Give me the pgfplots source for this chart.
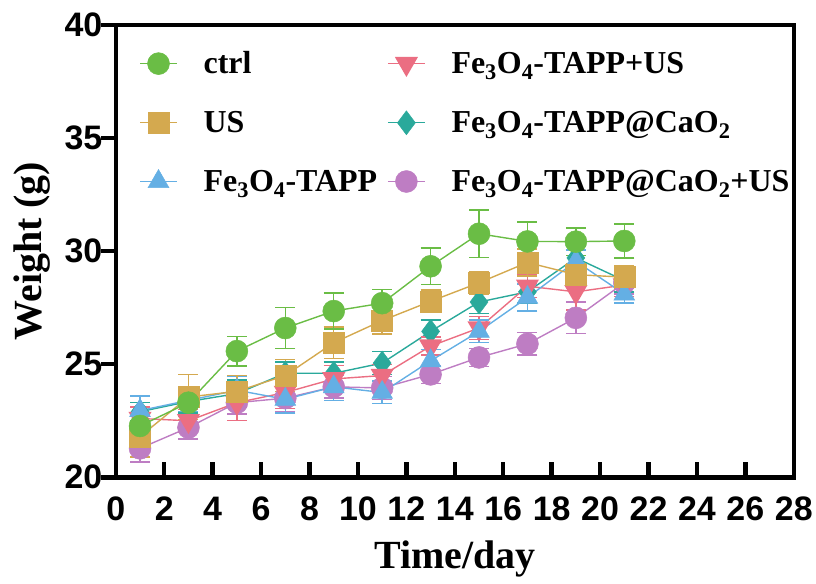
\documentclass[border=0pt]{standalone}
\usepackage{pgfplots}
\pgfplotsset{compat=1.18}
\usepackage{fontspec}
\setmainfont{Liberation Serif}
\newfontfamily\ticksans{Liberation Sans}

\definecolor{cgreen}{RGB}{106,189,69}
\definecolor{cgold}{RGB}{212,169,79}
\definecolor{cblue}{RGB}{100,175,228}
\definecolor{cpink}{RGB}{235,110,130}
\definecolor{cteal}{RGB}{42,169,155}
\definecolor{cpurple}{RGB}{190,125,195}

% x, mean, sd
\pgfplotstableread{
x y e
1 22.27 0.5
3 23.30 0.6
5 25.58 0.65
7 26.60 0.9
9 27.35 0.8
11 27.70 0.6
13 29.33 0.8
15 30.77 1.05
17 30.43 0.85
19 30.42 0.6
21 30.45 0.75
}\ctrl
\pgfplotstableread{
x y e
1 21.80 0.9
3 23.55 1.0
5 23.80 0.7
7 24.50 0.7
9 25.95 0.7
11 26.93 0.6
13 27.78 0.5
15 28.60 0.5
17 29.50 0.6
19 28.96 0.5
21 28.85 0.5
}\us
\pgfplotstableread{
x y e
1 22.95 0.65
3 23.40 0.5
5 23.85 0.6
7 23.45 0.6
9 24.00 0.6
11 23.75 0.5
13 25.15 0.5
15 26.45 0.5
17 27.95 0.6
19 29.55 0.5
21 28.10 0.4
}\tapp
\pgfplotstableread{
x y e
1 22.60 0.5
3 22.50 0.5
5 23.30 0.8
7 23.75 0.7
9 24.35 0.6
11 24.50 0.5
13 25.80 0.4
15 26.60 0.5
17 28.45 0.5
19 28.20 0.8
21 28.50 0.5
}\tappus
\pgfplotstableread{
x y e
1 22.90 0.4
3 23.35 0.5
5 23.70 0.6
7 24.60 0.5
9 24.60 0.5
11 25.05 0.5
13 26.45 0.5
15 27.75 0.5
17 28.20 0.5
19 29.70 0.5
21 28.70 0.5
}\cao
\pgfplotstableread{
x y e
1 21.28 0.6
3 22.20 0.5
5 23.30 0.5
7 23.50 0.6
9 24.00 0.5
11 23.95 0.5
13 24.55 0.4
15 25.30 0.4
17 25.90 0.5
19 27.05 0.7
21 28.60 0.5
}\caous

\pgfplotsset{
  series/.style={color=#1, line width=1.4pt, mark options={solid, fill=#1, draw=#1, line width=0.5pt},
    error bars/.cd, y dir=both, y explicit,
    error bar style={line width=1.4pt, #1},
    error mark options={rotate=90, mark size=10pt, line width=1.4pt, #1},
    /pgfplots/.cd},
}

\begin{document}
\begin{tikzpicture}
\begin{axis}[
  scale only axis,
  width=679pt, height=453pt,
  xmin=0, xmax=28, ymin=20, ymax=40,
  clip=false,
  xtick={0,2,...,28}, ytick={20,25,...,40},
  xtick pos=bottom, ytick pos=left,
  tick align=inside,
  major tick length=15pt,
  axis line style={line width=4.5pt},
  every tick/.style={line width=4.5pt, black},
  y tick style={xshift=-15pt},
  tick label style={font=\fontsize{34}{36}\selectfont\ticksans\bfseries},
  /pgf/number format/assume math mode=true,
  yticklabel style={xshift=-10pt},
  xticklabel style={yshift=-16pt},
  xlabel={Time/day}, ylabel={Weight (g)},
  label style={font=\fontsize{40}{44}\selectfont\bfseries},
  xlabel style={at={(axis description cs:0.5,-0.18)}, anchor=center},
  ylabel style={at={(axis description cs:-0.124,0.5)}, anchor=center},
  legend columns=3, transpose legend,
  legend image code/.code={\draw[mark repeat=2, mark phase=2, #1]
    plot coordinates {(0pt,0pt) (18.5pt,0pt) (37pt,0pt)};},
  legend style={draw=none, fill=none, at={(axis description cs:0.03,0.95)}, anchor=north west,
    font=\fontsize{32}{36}\selectfont\bfseries, row sep=32pt,
    /tikz/every odd column/.append style={column sep=24pt},
    /tikz/every even column/.append style={column sep=8pt}},
  legend cell align=left,
]
\addlegendimage{series=cgreen, mark=*, mark size=11pt}
\addlegendentry{ctrl}
\addlegendimage{series=cgold, mark=square*, mark size=10.5pt}
\addlegendentry{US}
\addlegendimage{series=cblue, mark=triangle*, mark size=12pt}
\addlegendentry{Fe\textsubscript{3}O\textsubscript{4}-TAPP}
\addlegendimage{series=cpink, mark=triangle*, mark size=12pt, mark options={rotate=180}}
\addlegendentry{Fe\textsubscript{3}O\textsubscript{4}-TAPP+US}
\addlegendimage{series=cteal, mark=diamond*, mark size=12pt}
\addlegendentry{Fe\textsubscript{3}O\textsubscript{4}-TAPP@CaO\textsubscript{2}}
\addlegendimage{series=cpurple, mark=*, mark size=11pt}
\addlegendentry{Fe\textsubscript{3}O\textsubscript{4}-TAPP@CaO\textsubscript{2}+US}

\addplot[forget plot, series=cpurple, mark=*, mark size=11pt] table[x=x, y=y, y error=e] {\caous};
\addplot[forget plot, series=cteal, mark=diamond*, mark size=12pt] table[x=x, y=y, y error=e] {\cao};
\addplot[forget plot, series=cpink, mark=triangle*, mark size=12pt, mark options={rotate=180}] table[x=x, y=y, y error=e] {\tappus};
\addplot[forget plot, series=cblue, mark=triangle*, mark size=12pt] table[x=x, y=y, y error=e] {\tapp};
\addplot[forget plot, series=cgold, mark=square*, mark size=10.5pt] table[x=x, y=y, y error=e] {\us};
\addplot[forget plot, series=cgreen, mark=*, mark size=11pt] table[x=x, y=y, y error=e] {\ctrl};

% page extent as in the reference
\path (rel axis cs:-0.1708,-0.234) rectangle (rel axis cs:1.0309,1.0552);
\end{axis}
\end{tikzpicture}
\end{document}
